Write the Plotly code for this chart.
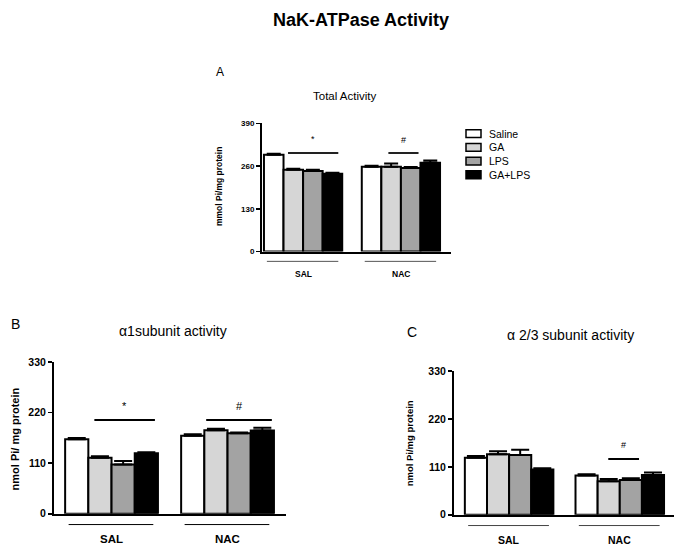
import plotly.graph_objects as go

W, H = 683, 556

groups = ["SAL", "NAC"]
treatments = ["Saline", "GA", "LPS", "GA+LPS"]
colors = ["#ffffff", "#d6d6d6", "#a3a3a3", "#000000"]

# Panel A: Total activity (mmol Pi/mg protein)
total_sal = [295, 249, 245, 237]
total_sal_err = [3, 3, 4, 3]
total_nac = [258, 258, 254, 270]
total_nac_err = [3, 10, 3, 7]

# Panel B: alpha1 subunit activity
a1_sal = [162, 122, 107, 132]
a1_sal_err = [3, 3, 8, 2]
a1_nac = [170, 182, 175, 181]
a1_nac_err = [3, 3, 2, 6]

# Panel C: alpha 2/3 subunit activity
a23_sal = [131, 139, 137, 104]
a23_sal_err = [4, 7, 12, 3]
a23_nac = [90, 77, 80, 91]
a23_nac_err = [3, 5, 4, 6]

ticks_a = [0, 130, 260, 390]
ticks_bc = [0, 110, 220, 330]

sal_pos = [0, 1, 2, 3]
nac_pos = [5, 6, 7, 8]


def px(x):
    return x / W


def py(y):
    return 1 - y / H


fig = go.Figure()

panels = [
    dict(sal=total_sal, sale=total_sal_err, nac=total_nac, nace=total_nac_err,
         xa="x", ya="y", errw=7),
    dict(sal=a1_sal, sale=a1_sal_err, nac=a1_nac, nace=a1_nac_err,
         xa="x2", ya="y2", errw=9),
    dict(sal=a23_sal, sale=a23_sal_err, nac=a23_nac, nace=a23_nac_err,
         xa="x3", ya="y3", errw=9),
]

for p in panels:
    for i, t in enumerate(treatments):
        fig.add_trace(go.Bar(
            x=[sal_pos[i], nac_pos[i]],
            y=[p["sal"][i], p["nac"][i]],
            width=1.0,
            name=t,
            showlegend=False,
            marker=dict(color=colors[i], line=dict(color="black", width=2)),
            error_y=dict(type="data", symmetric=False,
                         array=[p["sale"][i], p["nace"][i]],
                         arrayminus=[0, 0],
                         color="black", thickness=2, width=p["errw"]),
            xaxis=p["xa"], yaxis=p["ya"],
        ))

font = "Arial, Liberation Sans, sans-serif"

def xax(domain, rng, anchor):
    return dict(domain=domain, range=rng, anchor=anchor, showline=True,
                linecolor="black", linewidth=2, showticklabels=False,
                ticks="", showgrid=False, zeroline=False, fixedrange=True)

def yax(domain, rng, tickvals, anchor, size):
    return dict(domain=domain, range=rng, anchor=anchor, showline=True,
                linecolor="black", linewidth=2, ticks="outside", ticklen=4,
                tickwidth=1.5, tickcolor="black", tickvals=tickvals,
                tickfont=dict(family=font, size=size, color="black", weight="bold"),
                showgrid=False, zeroline=False, fixedrange=True)

fig.update_layout(
    width=W, height=H,
    margin=dict(l=0, r=0, t=0, b=0),
    paper_bgcolor="white", plot_bgcolor="white",
    barmode="overlay",
    bargap=0,
    showlegend=False,
    hovermode=False,
    xaxis=xax([px(262), px(451)], [-0.6, 9.06], "y"),
    yaxis=yax([py(251), py(120)], [0, 390], ticks_a, "x", 8),
    xaxis2=xax([px(54), px(286)], [-0.98, 9.02], "y2"),
    yaxis2=yax([py(519), py(364)], [0, 330], ticks_bc, "x2", 10.5),
    xaxis3=xax([px(454), px(674)], [-0.99, 8.95], "y3"),
    yaxis3=yax([py(520), py(373)], [0, 330], ticks_bc, "x3", 10.5),
)

shapes = []
annotations = []

def ann(text, x, y, size, bold=False, angle=0, xref="paper", yref="paper",
        xanchor="center"):
    annotations.append(dict(
        text=text, x=x, y=y, xref=xref, yref=yref, showarrow=False,
        xanchor=xanchor, yanchor="middle", textangle=angle,
        font=dict(family=font, size=size, color="black",
                  weight="bold" if bold else "normal")))

# Titles
ann("NaK-ATPase Activity", px(361), py(14), 18, bold=True)
ann("A", px(220), py(67), 12)
ann("Total Activity", px(345), py(92), 11.5)
ann("B", px(15), py(325), 14)
ann("α1subunit activity", px(173), py(332), 14)
ann("C", px(412), py(333), 14)
ann("α 2/3 subunit activity", px(570), py(336), 14)

# Y titles
ann("mmol Pi/mg protein", px(219), py(185), 8.5, bold=True, angle=-90)
ann("nmol Pi/ mg protein", px(15), py(443), 11, bold=True, angle=-90)
ann("nmol Pi/mg protein", px(409), py(447), 9.5, bold=True, angle=-90)

# Legend (panel A)
leg_rows = [130.5, 144.5, 158.5, 172.5]
for t, c, ry in zip(treatments, colors, leg_rows):
    shapes.append(dict(type="rect", xref="paper", yref="paper",
                       x0=px(466), x1=px(481), y0=py(ry + 4), y1=py(ry - 4),
                       fillcolor=c, line=dict(color="black", width=1.5)))
    ann(t, px(487), py(ry), 10.5, xanchor="left")

# Group lines and labels
group_cfg = [
    ("x", 261, 274, 8.5, "#555555", 1),
    ("x2", 530, 545, 11.5, "black", 1),
    ("x3", 531, 546, 10.5, "#444444", 1),
]
for xr, ly, ty, fs, lc, lw in group_cfg:
    for g, pos in zip(groups, [sal_pos, nac_pos]):
        shapes.append(dict(type="line", xref=xr, yref="paper",
                           x0=pos[0] - 0.35, x1=pos[-1] + 0.3,
                           y0=py(ly), y1=py(ly),
                           line=dict(color=lc, width=lw)))
        ann(g, (pos[0] + pos[-1]) / 2, py(ty), fs, bold=True, xref=xr)

# Significance markers
sig = [
    ("x", "y", "*", 0.73, 3.3, 300, 342, 9, "#222222"),
    ("x", "y", "#", 5.86, 7.4, 300, 339, 9, "#222222"),
    ("x2", "y2", "*", 0.76, 3.37, 204, 234, 11, "black"),
    ("x2", "y2", "#", 5.58, 8.41, 204, 234, 11, "black"),
    ("x3", "y3", "#", 5.98, 7.37, 128, 159, 9, "black"),
]
for xr, yr, sym, x0, x1, ly, ty, fs, lc in sig:
    shapes.append(dict(type="line", xref=xr, yref=yr, x0=x0, x1=x1,
                       y0=ly, y1=ly, line=dict(color=lc, width=2)))
    ann(sym, (x0 + x1) / 2, ty, fs, xref=xr, yref=yr)

fig.update_layout(shapes=shapes, annotations=annotations)

fig.write_html(
    "out.html",
    config={"displayModeBar": False, "staticPlot": True},
    post_script=("document.documentElement.style.margin='0';"
                 "document.body.style.margin='0';"
                 "document.body.style.padding='0';"
                 "document.body.style.overflow='hidden';"
                 "document.documentElement.style.overflow='hidden';"
                 "var d=document.getElementById('{plot_id}');"
                 "d.style.position='fixed';d.style.top='0px';d.style.left='0px';"),
)
